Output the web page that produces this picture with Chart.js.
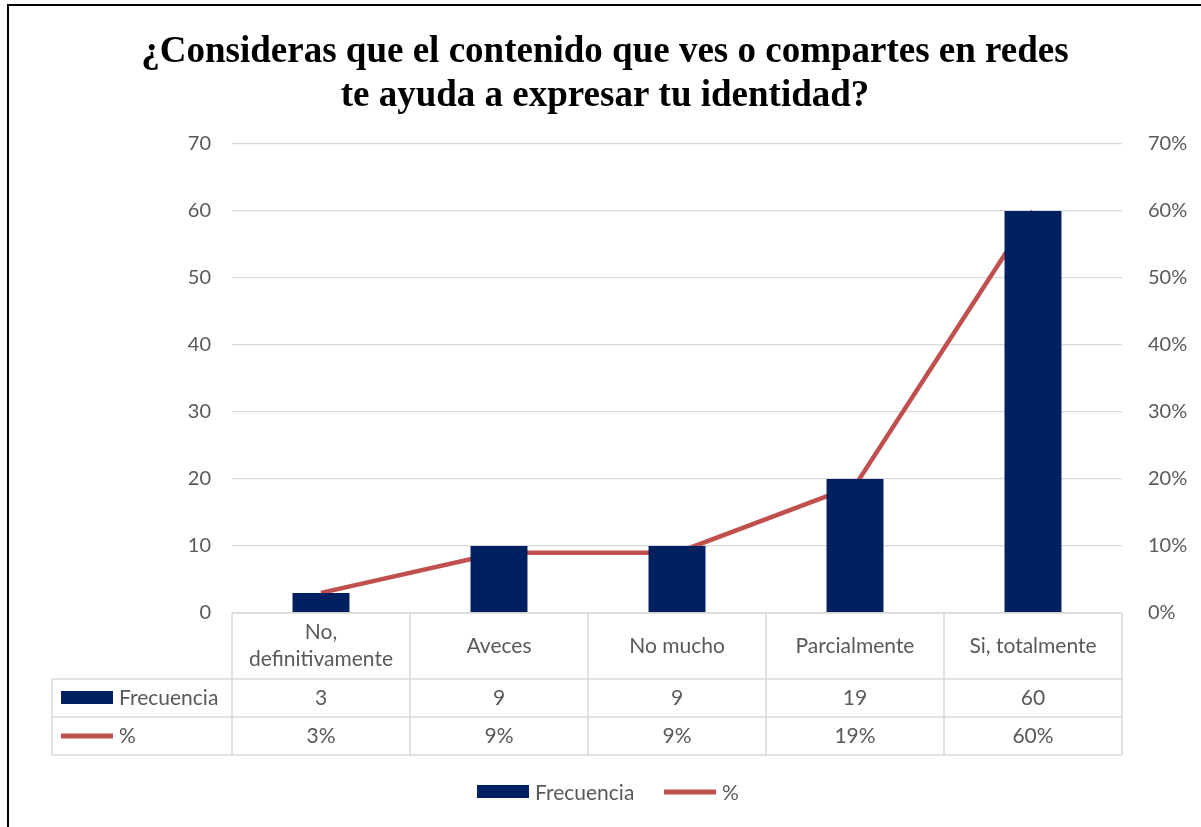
<!DOCTYPE html>
<html>
<head>
<meta charset="utf-8">
<title>Identidad en redes</title>
<script src="https://cdn.jsdelivr.net/npm/chart.js@4.4.1/dist/chart.umd.min.js"></script>
<style>
	body { margin: 0; background: #fff; }
	canvas { display: block; }
</style>
</head>
<body>
<canvas id="chart" width="1201" height="827"></canvas>
<script>
// Data
const titleLines = ['¿Consideras que el contenido que ves o compartes en redes', 'te ayuda a expresar tu identidad?'];
const categories = ['No, definitivamente', 'Aveces', 'No mucho', 'Parcialmente', 'Si, totalmente'];
const barValues = [3, 10, 10, 20, 60];          // bar heights as drawn
const tableFrecuencia = ['3', '9', '9', '19', '60'];  // values printed in the table
const percentValues = [0.03, 0.09, 0.09, 0.19, 0.60];
const tablePercent = ['3%', '9%', '9%', '19%', '60%'];
const seriesNames = ['Frecuencia', '%'];

const navy = '#002060';
const red = '#c0504d';
const gridColor = '#d9d9d9';
const textColor = '#595959';
const sans = 'Lato, "Open Sans", sans-serif';

// draws the title, frame, data table and legend around the plot
const extras = {
	id: 'extras',
	afterDraw(chart) {
		const ctx = chart.ctx;
		const x = chart.scales.x;
		const area = chart.chartArea;
		const step = (area.right - area.left) / categories.length;
		const rows = [area.bottom, 679, 717, 755];
		const tableLeft = 52;

		ctx.save();
		// outer frame
		ctx.strokeStyle = '#000';
		ctx.lineWidth = 2;
		ctx.beginPath();
		ctx.moveTo(1201, 5);
		ctx.lineTo(8, 5);
		ctx.lineTo(8, 827);
		ctx.stroke();

		// title
		ctx.fillStyle = '#000';
		ctx.font = 'bold 37px "Liberation Serif", "Times New Roman", serif';
		ctx.textAlign = 'center';
		ctx.textBaseline = 'alphabetic';
		ctx.fillText(titleLines[0], 605, 62);
		ctx.fillText(titleLines[1], 605, 106);

		// table grid
		ctx.strokeStyle = gridColor;
		ctx.lineWidth = 1.5;
		ctx.beginPath();
		for (let i = 0; i <= categories.length; i++) {
			const lx = area.left + step * i;
			ctx.moveTo(lx, rows[0]);
			ctx.lineTo(lx, rows[3]);
		}
		ctx.moveTo(area.left, rows[0]);
		ctx.lineTo(area.right, rows[0]);
		for (let r = 1; r < rows.length; r++) {
			ctx.moveTo(tableLeft, rows[r]);
			ctx.lineTo(area.right, rows[r]);
		}
		ctx.moveTo(tableLeft, rows[1]);
		ctx.lineTo(tableLeft, rows[3]);
		ctx.stroke();

		// table text
		ctx.fillStyle = textColor;
		ctx.font = '21px ' + sans;
		ctx.textBaseline = 'middle';
		ctx.textAlign = 'center';
		categories.forEach((label, i) => {
			const cx = x.getPixelForValue(i);
			const lines = wrapText(ctx, label, step - 14);
			const mid = (rows[0] + rows[1]) / 2;
			lines.forEach((ln, k) => {
				ctx.fillText(ln, cx, mid + (k - (lines.length - 1) / 2) * 27);
			});
			ctx.fillText(tableFrecuencia[i], cx, (rows[1] + rows[2]) / 2);
			ctx.fillText(tablePercent[i], cx, (rows[2] + rows[3]) / 2);
		});

		// series keys in table
		ctx.textAlign = 'left';
		ctx.fillStyle = navy;
		ctx.fillRect(61, 691, 52, 13);
		ctx.fillStyle = textColor;
		ctx.fillText(seriesNames[0], 119, 698);
		ctx.strokeStyle = red;
		ctx.lineWidth = 5;
		ctx.beginPath();
		ctx.moveTo(61, 736);
		ctx.lineTo(113, 736);
		ctx.stroke();
		ctx.fillText(seriesNames[1], 119, 736);

		// bottom legend
		ctx.fillStyle = navy;
		ctx.fillRect(477, 785, 52, 13);
		ctx.fillStyle = textColor;
		ctx.fillText(seriesNames[0], 535, 793);
		ctx.beginPath();
		ctx.moveTo(664, 792);
		ctx.lineTo(716, 792);
		ctx.stroke();
		ctx.fillText(seriesNames[1], 722, 793);
		ctx.restore();
	}
};

function wrapText(ctx, text, maxWidth) {
	if (ctx.measureText(text).width <= maxWidth) return [text];
	const words = text.split(' ');
	const lines = [];
	let current = '';
	words.forEach(w => {
		const test = current ? current + ' ' + w : w;
		if (ctx.measureText(test).width > maxWidth && current) {
			lines.push(current);
			current = w;
		} else {
			current = test;
		}
	});
	lines.push(current);
	return lines;
}

const context = document.getElementById('chart').getContext('2d');

new Chart(context, {
	type: 'bar',
	data: {
		labels: categories,
		datasets: [
			{
				type: 'line',
				label: seriesNames[1],
				data: percentValues,
				yAxisID: 'y1',
				borderColor: red,
				backgroundColor: red,
				borderWidth: 4.5,
				pointRadius: 0,
				tension: 0,
				order: 2
			},
			{
				type: 'bar',
				label: seriesNames[0],
				data: barValues,
				yAxisID: 'y',
				backgroundColor: navy,
				barPercentage: 0.32,
				categoryPercentage: 1,
				order: 1
			}
		]
	},
	options: {
		responsive: false,
		animation: false,
		devicePixelRatio: 1,
		layout: {
			padding: { left: 0, right: 0, top: 144, bottom: 214 }
		},
		plugins: {
			legend: { display: false },
			tooltip: { enabled: false }
		},
		scales: {
			x: {
				display: false
			},
			y: {
				position: 'left',
				min: 0,
				max: 70,
				afterFit: s => { s.width = 232; },
				ticks: {
					stepSize: 10,
					padding: 21,
					color: textColor,
					font: { family: sans, size: 20 }
				},
				grid: { color: gridColor, lineWidth: 1.3, drawTicks: false },
				border: { display: false }
			},
			y1: {
				position: 'right',
				min: 0,
				max: 0.7,
				afterFit: s => { s.width = 79; },
				ticks: {
					stepSize: 0.1,
					padding: 26,
					color: textColor,
					font: { family: sans, size: 20 },
					callback: v => Math.round(v * 100) + '%'
				},
				grid: { display: false, drawTicks: false },
				border: { display: false }
			}
		}
	},
	plugins: [extras]
});
</script>
</body>
</html>
